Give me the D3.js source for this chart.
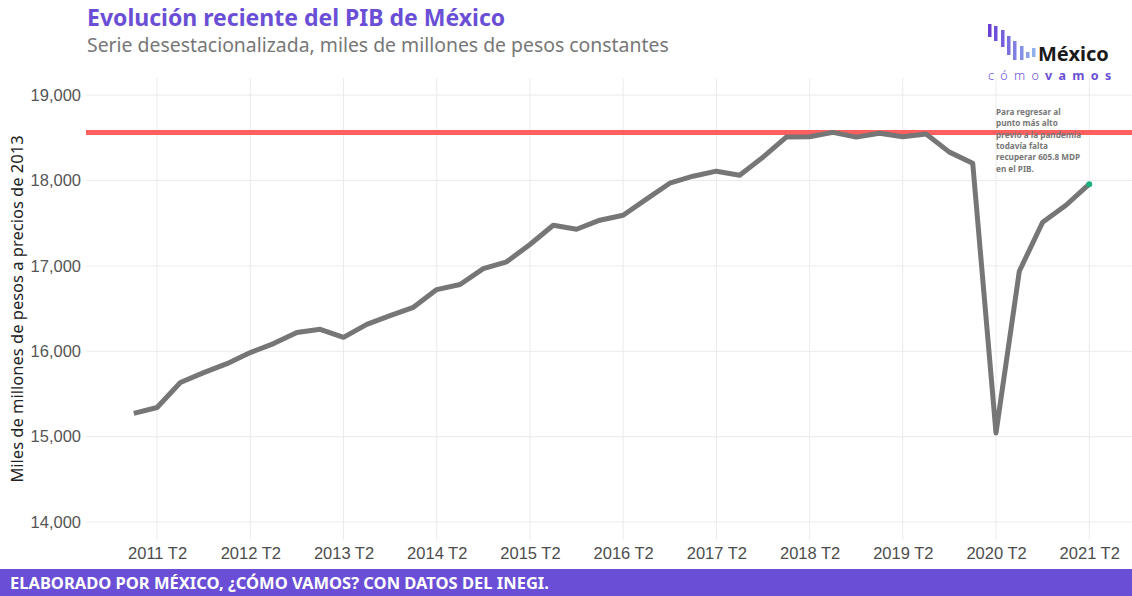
<!DOCTYPE html>
<html>
<head>
<meta charset="utf-8">
<script src="https://cdn.jsdelivr.net/npm/d3@7"></script>
<style>
  body { margin: 0; background: #fff; }
  svg { display: block; font-family: "Noto Sans", "Open Sans", sans-serif; }
</style>
</head>
<body>
<svg id="chart" width="1132" height="596"></svg>
<script>
// trimestres 2011 T1 .. 2021 T2
const years = d3.range(2011, 2022);
const quarters = [];
years.forEach(y => [1, 2, 3, 4].forEach(q => {
  if (y === 2021 && q > 2) return;
  quarters.push(`${y} T${q}`);
}));

// PIB desestacionalizado (miles de millones de pesos de 2013)
const pib = [
  15272, 15342, 15635, 15750, 15855, 15985, 16090, 16220,
  16257, 16163, 16315, 16418, 16515, 16722, 16782, 16968,
  17048, 17250, 17476, 17429, 17535, 17593, 17781, 17968,
  18050, 18109, 18062, 18273, 18508, 18512, 18563, 18508,
  18553, 18512, 18545, 18332, 18203, 15044, 16937, 17511,
  17710, 17957
];

const yTicks = [14000, 15000, 16000, 17000, 18000, 19000];
const xTickLabels = ['2011 T2', '2012 T2', '2013 T2', '2014 T2', '2015 T2', '2016 T2',
  '2017 T2', '2018 T2', '2019 T2', '2020 T2', '2021 T2'];

const annotation = ['Para regresar al', 'punto más alto', 'previo a la pandemia',
  'todavía falta', 'recuperar 605.8 MDP', 'en el PIB.'];

const purple = '#6a4fd6';

const data = quarters.map((q, i) => ({ q, i, v: pib[i] }));
const preMax = d3.max(data.filter(d => d.i < 37), d => d.v);

const svg = d3.select('#chart');

const x = d3.scaleLinear().domain([-2.05, 43.05]).range([86, 1137]);
const y = d3.scaleLinear().domain([13790, 19200]).range([540, 78]);

// grid
svg.append('g').selectAll('line')
  .data(yTicks)
  .enter().append('line')
  .attr('x1', 86).attr('x2', 1132)
  .attr('y1', d => y(d)).attr('y2', d => y(d))
  .attr('stroke', '#ebebeb').attr('stroke-width', 1);

svg.append('g').selectAll('line')
  .data(xTickLabels)
  .enter().append('line')
  .attr('x1', d => x(quarters.indexOf(d))).attr('x2', d => x(quarters.indexOf(d)))
  .attr('y1', 78).attr('y2', 540)
  .attr('stroke', '#ebebeb').attr('stroke-width', 1);

// ejes
const yAxis = svg.append('g')
  .attr('transform', 'translate(86,0)')
  .call(d3.axisLeft(y).tickValues(yTicks).tickFormat(d3.format(',')).tickSize(0).tickPadding(5));
yAxis.select('.domain').remove();
yAxis.selectAll('text').attr('font-size', 16.5).attr('fill', '#555').attr('font-family', null);

const xAxis = svg.append('g')
  .attr('transform', 'translate(0,540)')
  .call(d3.axisBottom(x)
    .tickValues(xTickLabels.map(d => quarters.indexOf(d)))
    .tickFormat(i => quarters[i]).tickSize(0).tickPadding(7));
xAxis.select('.domain').remove();
xAxis.selectAll('text').attr('font-size', 16.5).attr('fill', '#4d4d4d').attr('font-family', null);

svg.append('text')
  .attr('transform', `translate(23,${(78 + 540) / 2}) rotate(-90)`)
  .attr('text-anchor', 'middle')
  .attr('font-size', 16.5).attr('fill', '#222')
  .text('Miles de millones de pesos a precios de 2013');

// linea de maximo previo
svg.append('line')
  .attr('x1', 86).attr('x2', 1132)
  .attr('y1', y(preMax)).attr('y2', y(preMax))
  .attr('stroke', '#ff5f5f').attr('stroke-width', 5);

// serie
const line = d3.line().x(d => x(d.i)).y(d => y(d.v));
svg.append('path')
  .datum(data)
  .attr('d', line)
  .attr('fill', 'none')
  .attr('stroke', '#767676')
  .attr('stroke-width', 5)
  .attr('stroke-linejoin', 'round');

const last = data[data.length - 1];
svg.append('circle')
  .attr('cx', x(last.i)).attr('cy', y(last.v)).attr('r', 3)
  .attr('fill', '#17b07e');

// anotacion
const annX = x(quarters.indexOf('2020 T2'));
const ann = svg.append('text')
  .attr('x', annX)
  .attr('y', 115)
  .attr('font-size', 8.2).attr('font-weight', 'bold').attr('fill', '#777');
annotation.forEach((t, k) => {
  ann.append('tspan').attr('x', annX).attr('dy', k ? 11.3 : 0).text(t);
});

// titulos
svg.append('text')
  .attr('x', 87).attr('y', 26)
  .attr('font-size', 23).attr('font-weight', 'bold').attr('fill', purple)
  .text('Evolución reciente del PIB de México');
svg.append('text')
  .attr('x', 87).attr('y', 52)
  .attr('font-size', 19.4).attr('fill', '#777')
  .text('Serie desestacionalizada, miles de millones de pesos constantes');

// logo
const logoBars = [[988, 24, 13], [994, 26, 15], [1001, 30, 17], [1007, 36, 19], [1013, 41, 19],
  [1020, 46, 14], [1026, 52, 6], [1032, 48, 9]];
const barColor = d3.scaleLinear().domain([0, logoBars.length - 1]).range(['#6a3fd6', '#8fb0ea']);
svg.append('g').selectAll('rect')
  .data(logoBars)
  .enter().append('rect')
  .attr('x', d => d[0]).attr('y', d => d[1])
  .attr('width', 3.5).attr('height', d => d[2])
  .attr('fill', (d, k) => barColor(k));
svg.append('text')
  .attr('x', 1038).attr('y', 61)
  .attr('font-size', 20).attr('font-weight', 'bold').attr('fill', '#1a1a1a')
  .text('México');
const como = svg.append('text')
  .attr('x', 988).attr('y', 80)
  .attr('font-size', 12.5).attr('fill', purple).attr('letter-spacing', 6.3);
como.append('tspan').attr('font-weight', 300).text('cómo');
como.append('tspan').attr('font-weight', 'bold').text('vamos');

// pie
svg.append('rect')
  .attr('x', 0).attr('y', 569).attr('width', 1132).attr('height', 27)
  .attr('fill', purple);
svg.append('text')
  .attr('x', 10).attr('y', 589)
  .attr('font-size', 16.5).attr('font-weight', 'bold').attr('fill', '#fff')
  .text('ELABORADO POR MÉXICO, ¿CÓMO VAMOS? CON DATOS DEL INEGI.');
</script>
</body>
</html>
